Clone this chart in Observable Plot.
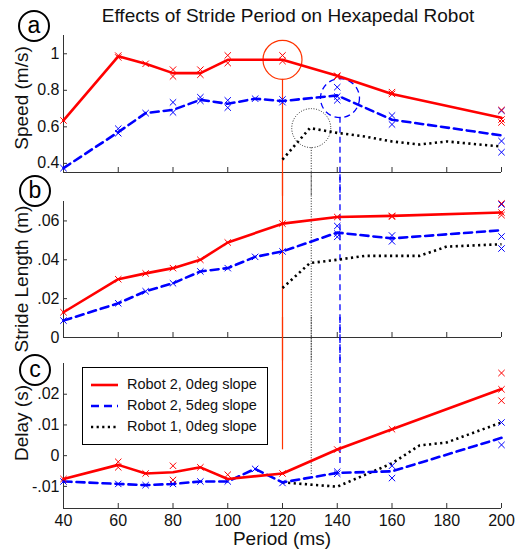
<!DOCTYPE html>
<html><head><meta charset="utf-8">
<script src="https://cdn.jsdelivr.net/npm/d3@7"></script>
<script src="https://cdn.jsdelivr.net/npm/@observablehq/plot@0.6"></script>
<style>
body{margin:0;background:#fff;font-family:"Liberation Sans",Arial,sans-serif;}
#wrap{position:relative;width:520px;height:549px;overflow:hidden;background:#fff;}
.panel{position:absolute;left:0;}
.title{position:absolute;left:88px;top:5px;width:400px;text-align:center;font-size:19px;color:#111;white-space:nowrap;}
.ylab{position:absolute;font-size:19px;color:#111;white-space:nowrap;transform:translate(-50%,-50%) rotate(-90deg);}
.xlab{position:absolute;font-size:19px;color:#111;white-space:nowrap;transform:translate(-50%,-50%);}
.tag{position:absolute;width:28px;height:28px;border:2px solid #000;border-radius:50%;background:#fff;font-size:23px;line-height:26px;text-align:center;color:#000;transform:translate(-50%,-50%);}
.legend{position:absolute;left:82px;top:367px;width:184px;height:76px;border:1px solid #000;background:#fff;font-size:14.5px;color:#111;}
.legend .row{position:absolute;left:8px;height:20px;width:176px;}
.legend svg{position:absolute;left:0;top:0;}
.legend span{position:absolute;left:36px;top:1px;white-space:nowrap;}
</style></head><body><div id="wrap"></div>
<script>
// ---------- data ----------
const xTicks = [40, 60, 80, 100, 120, 140, 160, 180, 200];

// Panel a: speed (m/s)
const redPeriods = [40, 60, 70, 80, 90, 100, 120, 140, 160, 200];
const bluePeriods = [40, 60, 70, 80, 90, 100, 110, 120, 140, 160, 200];
const speedRed = [0.635, 0.986, 0.945, 0.894, 0.894, 0.967, 0.967, 0.88, 0.78, 0.65];
const speedBlue = [0.374, 0.571, 0.675, 0.693, 0.748, 0.726, 0.754, 0.741, 0.772, 0.639, 0.553];
const speedBlackPeriods = [120, 130, 140, 150, 160, 170, 180, 200];
const speedBlack = [0.421, 0.593, 0.567, 0.547, 0.52, 0.503, 0.52, 0.492];
const speedRedTrials = [[40,0.635],[60,0.99],[60,0.98],[70,0.945],[80,0.913],[80,0.876],[90,0.913],[90,0.885],[100,0.991],[100,0.949],[120,0.991],[120,0.96],[140,0.88],[140,0.875],[160,0.79],[160,0.78],[200,0.692],[200,0.64],[200,0.624]];
const speedBlueTrials = [[40,0.374],[60,0.59],[60,0.565],[70,0.675],[80,0.734],[80,0.679],[90,0.762],[90,0.742],[100,0.745],[100,0.705],[110,0.754],[120,0.75],[120,0.735],[140,0.817],[140,0.766],[140,0.745],[160,0.662],[160,0.613],[200,0.688],[200,0.522],[200,0.461]];

// Panel b: stride length (m)
const strideRed = [0.013, 0.030, 0.033, 0.0357, 0.040, 0.0489, 0.0586, 0.062, 0.0626, 0.0643];
const strideBlue = [0.0087, 0.0176, 0.0238, 0.0279, 0.034, 0.0357, 0.0415, 0.0443, 0.054, 0.051, 0.0552];
const strideBlackPeriods = [120, 130, 140, 150, 170, 180, 200];
const strideBlack = [0.0255, 0.0383, 0.040, 0.042, 0.042, 0.0468, 0.048];
const strideRedTrials = [[40,0.013],[60,0.030],[70,0.033],[80,0.0357],[90,0.040],[100,0.0489],[120,0.0586],[140,0.062],[160,0.0626],[160,0.0622],[200,0.069],[200,0.0643],[200,0.063]];
const strideBlueTrials = [[40,0.0087],[60,0.0176],[70,0.0238],[80,0.0279],[90,0.034],[100,0.0357],[110,0.0415],[120,0.0443],[140,0.0574],[140,0.0535],[140,0.0518],[160,0.0525],[160,0.0495],[200,0.0685],[200,0.052],[200,0.0458]];

// Panel c: delay (s)
const delayRed = [-0.0076, -0.003, -0.0058, -0.0054, -0.0038, -0.0076, -0.0058, 0.002, 0.0086, 0.0217];
const delayBlue = [-0.0084, -0.0092, -0.0096, -0.0092, -0.0084, -0.0084, -0.0043, -0.0087, -0.0056, -0.0051, 0.0058];
const delayBlackPeriods = [120, 130, 140, 160, 170, 180, 200];
const delayBlack = [-0.0087, -0.0094, -0.0101, -0.0025, 0.0033, 0.0043, 0.0108];
const delayRedTrials = [[40,-0.0076],[60,-0.002],[60,-0.0038],[70,-0.0058],[80,-0.0033],[80,-0.0079],[90,-0.0038],[100,-0.0062],[120,-0.0058],[140,0.002],[160,0.0086],[200,0.0269],[200,0.0216],[200,0.0179]];
const delayBlueTrials = [[40,-0.0084],[60,-0.0092],[70,-0.0096],[80,-0.0092],[90,-0.0084],[100,-0.0084],[110,-0.0043],[120,-0.0089],[140,-0.0052],[140,-0.0059],[160,-0.0033],[160,-0.0073],[200,0.0108],[200,0.0035]];

// Highlighted periods (circles in panel a, guide lines down through c)
const highlightPeriods = [120, 141, 130.5];          // red, blue, black
const highlightSpeeds = [0.967, 0.757, 0.593];
const guideTopA = [0.86, 0.653, 0.485];              // bottom of each circle in panel a
const guideEndC = [0.0019, -0.0026, -0.0065];        // where guides end in panel c

const legendLabels = ["Robot 2, 0deg slope", "Robot 2, 5deg slope", "Robot 1, 0deg slope"];

// ---------- styles ----------
const RED = "#ff0000", BLUE = "#0000ff", BLACK = "#000000", GUIDE_RED = "#ff3300";
const guideStyles = [
  {stroke: GUIDE_RED, strokeWidth: 1.2},
  {stroke: BLUE, strokeWidth: 1.3, strokeDasharray: "6,4"},
  {stroke: "#222", strokeWidth: 1, strokeDasharray: "1,1.6"}
];

function panel(o) {
  const tbl = (p, v) => d3.zip(p, v).map(([x, y]) => ({x, y}));
  const pts = arr => arr.map(([x, y]) => ({x, y}));
  const marks = [
    Plot.ruleX([40], {stroke: "#333", strokeWidth: 1}),
    Plot.ruleY([o.yDomain[0]], {stroke: "#333", strokeWidth: 1}),
    Plot.axisX({ticks: xTicks, tickSize: -5, tickPadding: 11, stroke: "#333",
      tickFormat: o.showX ? d => String(d) : () => "", label: null, fontSize: 16, fill: "#111"}),
    Plot.axisY({ticks: o.yTicks, tickSize: -4, tickPadding: 8, stroke: "#333",
      tickFormat: o.yFormat, label: null, fontSize: 16, fill: "#111"}),
  ];
  o.guides.forEach((g, i) => {
    marks.push(Plot.ruleX([highlightPeriods[i]], {y1: g[0], y2: g[1], ...guideStyles[i]}));
  });
  if (o.circles) {
    highlightPeriods.forEach((p, i) => {
      marks.push(Plot.dot([{x: p, y: highlightSpeeds[i]}], {x: "x", y: "y", r: 19.5, fill: "none", ...guideStyles[i]}));
    });
  }
  marks.push(
    Plot.line(tbl(o.blackP, o.black), {x: "x", y: "y", stroke: BLACK, strokeWidth: 2.6, strokeDasharray: "2.2,3.4", strokeLinecap: "butt"}),
    Plot.line(tbl(bluePeriods, o.blue), {x: "x", y: "y", stroke: BLUE, strokeWidth: 2.6, strokeDasharray: "8,5"}),
    Plot.dot(pts(o.blueTrials), {x: "x", y: "y", symbol: "times", r: 3, stroke: BLUE, strokeWidth: 1}),
    Plot.line(tbl(redPeriods, o.red), {x: "x", y: "y", stroke: RED, strokeWidth: 2.6}),
    Plot.dot(pts(o.redTrials), {x: "x", y: "y", symbol: "times", r: 3, stroke: RED, strokeWidth: 1})
  );
  const svg = Plot.plot({
    width: 520, height: o.height,
    marginLeft: 63, marginRight: 19, marginTop: o.mt, marginBottom: o.mb,
    style: {background: "transparent", overflow: "visible", fontFamily: "'Liberation Sans', Arial, sans-serif", fontSize: "16px", color: "#111"},
    x: {domain: [40, 200]},
    y: {domain: o.yDomain},
    marks
  });
  svg.classList.add("panel");
  svg.style.top = o.top + "px";
  return svg;
}

const wrap = document.getElementById("wrap");
const dotFmt = d => d === 0 ? "0" : (d < 0 ? "-" : "") + String(Math.abs(d)).replace(/^0/, "");

const pc = panel({top: 350, height: 199, mt: 13, mb: 41, yDomain: [-0.0172, 0.03], yTicks: [-0.01, 0, 0.01, 0.02], yFormat: dotFmt,
  red: delayRed, blue: delayBlue, blackP: delayBlackPeriods, black: delayBlack,
  redTrials: delayRedTrials, blueTrials: delayBlueTrials, showX: true,
  guides: guideEndC.map(v => [0.045, v])});
const pb = panel({top: 185, height: 160, mt: 16, mb: 8, yDomain: [0, 0.07], yTicks: [0, 0.02, 0.04, 0.06], yFormat: dotFmt,
  red: strideRed, blue: strideBlue, blackP: strideBlackPeriods, black: strideBlack,
  redTrials: strideRedTrials, blueTrials: strideBlueTrials, showX: false,
  guides: [[-0.012, 0.085], [-0.012, 0.085], [-0.012, 0.085]]});
const pa = panel({top: 30, height: 150, mt: 5, mb: 8, yDomain: [0.35, 1.1], yTicks: [0.4, 0.6, 0.8, 1], yFormat: d => String(d),
  red: speedRed, blue: speedBlue, blackP: speedBlackPeriods, black: speedBlack,
  redTrials: speedRedTrials, blueTrials: speedBlueTrials, showX: false, circles: true,
  guides: guideTopA.map(v => [v, 0.22])});
wrap.append(pc, pb, pa);

function div(cls, text, css) {
  const d = document.createElement("div");
  d.className = cls; d.textContent = text; Object.assign(d.style, css); wrap.append(d); return d;
}
div("title", "Effects of Stride Period on Hexapedal Robot", {});
div("ylab", "Speed (m/s)", {left: "22px", top: "98px"});
div("ylab", "Stride Length (m)", {left: "22px", top: "279px"});
div("ylab", "Delay (s)", {left: "22px", top: "423px"});
div("xlab", "Period (ms)", {left: "282px", top: "539px"});
div("tag", "a", {left: "34px", top: "26px"});
div("tag", "b", {left: "35px", top: "191px"});
div("tag", "c", {left: "35px", top: "370px"});

const lg = document.createElement("div");
lg.className = "legend";
const lstyles = [
  {stroke: RED, dash: null},
  {stroke: BLUE, dash: "8,5"},
  {stroke: BLACK, dash: "2.2,3.4"}
];
legendLabels.forEach((lab, i) => {
  const row = document.createElement("div");
  row.className = "row";
  row.style.top = (7 + i * 21) + "px";
  row.innerHTML = `<svg width="30" height="20"><line x1="0" x2="27" y1="10" y2="10" stroke="${lstyles[i].stroke}" stroke-width="2.6" ${lstyles[i].dash ? `stroke-dasharray="${lstyles[i].dash}"` : ""}/></svg>`;
  const sp = document.createElement("span");
  sp.textContent = lab;
  row.append(sp);
  lg.append(row);
});
wrap.append(lg);
</script>
</body></html>
